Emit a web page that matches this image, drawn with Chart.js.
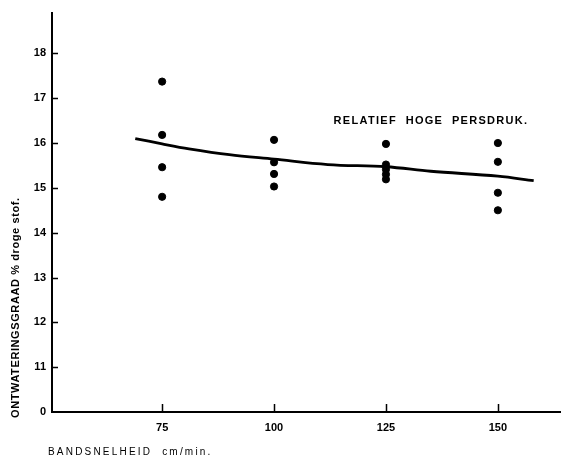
<!DOCTYPE html>
<html>
<head>
<meta charset="utf-8">
<script src="https://cdn.jsdelivr.net/npm/chart.js@4/dist/chart.umd.min.js"></script>
<style>
  body { margin: 0; background: #fff; }
  canvas { display: block; }
</style>
</head>
<body>
<canvas id="chart" width="561" height="458"></canvas>
<script>
// belt speed categories (cm/min) and the measured points at each one
const speeds = [75, 100, 125, 150];
const dots75 = [17.37, 16.18, 15.46, 14.80];
const dots100 = [16.07, 15.57, 15.31, 15.03];
const dots125 = [15.98, 15.52, 15.41, 15.30, 15.19];
const dots150 = [16.00, 15.58, 14.89, 14.50];

// hand drawn trend line
const curveX = [69, 75, 81, 90, 100, 112, 125, 135, 150, 158];
const curveY = [16.10, 15.98, 15.87, 15.74, 15.64, 15.52, 15.47, 15.37, 15.26, 15.16];

// broken y axis: the bottom position is labelled 0
const yTicks = [10, 11, 12, 13, 14, 15, 16, 17, 18];
const yLabels = ['0', '11', '12', '13', '14', '15', '16', '17', '18'];

const yTitle = 'ONTWATERINGSGRAAD % droge stof.';
const xTitle = 'BANDSNELHEID  cm/min.';
const note = 'RELATIEF  HOGE  PERSDRUK.';

const dotPoints = [];
[dots75, dots100, dots125, dots150].forEach((vals, i) => {
  vals.forEach(v => dotPoints.push({ x: speeds[i], y: v }));
});
const curvePoints = curveX.map((x, i) => ({ x: x, y: curveY[i] }));

const tickFont = { family: '"Liberation Sans", Arial, sans-serif', size: 11, weight: 'bold' };

// inward tick marks and the loose texts
const inkPlugin = {
  id: 'ink',
  afterDraw(chart) {
    const { ctx, scales: { x, y } } = chart;
    ctx.save();
    ctx.strokeStyle = '#000';
    ctx.lineWidth = 1.5;
    ctx.beginPath();
    yTicks.slice(1).forEach(v => {
      const py = Math.round(y.getPixelForValue(v)) + 0.5;
      ctx.moveTo(x.left, py);
      ctx.lineTo(x.left + 6, py);
    });
    speeds.forEach(v => {
      const px = Math.round(x.getPixelForValue(v)) + 0.5;
      ctx.moveTo(px, y.bottom);
      ctx.lineTo(px, y.bottom - 8);
    });
    ctx.stroke();

    ctx.fillStyle = '#000';
    ctx.textBaseline = 'middle';
    ctx.textAlign = 'left';
    ctx.letterSpacing = '1.3px';
    ctx.font = 'bold 11px "Liberation Sans", Arial, sans-serif';
    ctx.fillText(note, x.getPixelForValue(113.3), y.getPixelForValue(16.5));

    ctx.letterSpacing = '2.2px';
    ctx.font = '10px "Liberation Sans", Arial, sans-serif';
    ctx.fillText(xTitle, 48, 452);

    ctx.translate(16, 418);
    ctx.rotate(-Math.PI / 2);
    ctx.letterSpacing = '0.6px';
    ctx.font = 'bold 11px "Liberation Sans", Arial, sans-serif';
    ctx.fillText(yTitle, 0, 0);
    ctx.restore();
  }
};

new Chart(document.getElementById('chart'), {
  type: 'scatter',
  data: {
    datasets: [
      {
        label: 'metingen',
        data: dotPoints,
        backgroundColor: '#000',
        borderColor: '#000',
        pointRadius: 3.6,
        pointHoverRadius: 3.6
      },
      {
        label: 'trend',
        type: 'line',
        data: curvePoints,
        borderColor: '#000',
        borderWidth: 2.8,
        pointRadius: 0,
        tension: 0.35,
        fill: false
      }
    ]
  },
  options: {
    responsive: false,
    animation: false,
    layout: { autoPadding: false, padding: { top: 13, right: 0, left: 0, bottom: 0 } },
    plugins: {
      legend: { display: false },
      tooltip: { enabled: false }
    },
    scales: {
      x: {
        type: 'linear',
        min: 50.4,
        max: 164.1,
        afterBuildTicks: scale => { scale.ticks = speeds.map(v => ({ value: v })); },
        afterFit: scale => { scale.height = 46; },
        grid: { display: false, drawTicks: false },
        border: { display: true, color: '#000', width: 2 },
        ticks: {
          color: '#000',
          font: tickFont,
          padding: 9,
          maxRotation: 0,
          callback: v => String(v)
        }
      },
      y: {
        type: 'linear',
        min: 10,
        max: 18.9,
        afterBuildTicks: scale => { scale.ticks = yTicks.map(v => ({ value: v })); },
        afterFit: scale => { scale.width = 52; },
        grid: { display: false, drawTicks: false },
        border: { display: true, color: '#000', width: 2 },
        ticks: {
          color: '#000',
          font: tickFont,
          padding: 6,
          callback: v => yLabels[yTicks.indexOf(v)]
        }
      }
    }
  },
  plugins: [inkPlugin]
});
</script>
</body>
</html>
